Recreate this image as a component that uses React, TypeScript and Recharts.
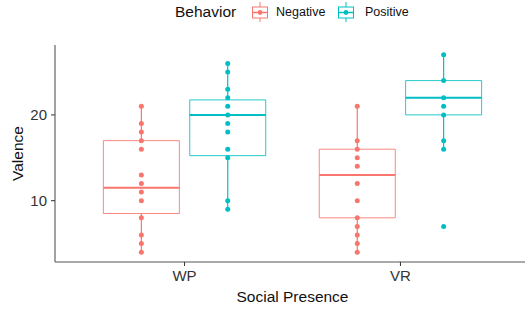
import {
  ComposedChart,
  Scatter,
  XAxis,
  YAxis,
  ReferenceArea,
  ReferenceLine,
  Label,
} from 'recharts'

const categories = ['WP', 'VR']
const groups = ['Negative', 'Positive']
const colors = ['#F8766D', '#00BFC4']

const wpNegative = [21, 19, 18, 17, 16, 13, 12, 11, 10, 8, 6, 5, 4]
const wpPositive = [26, 25, 23, 22, 21, 20, 19, 18, 16, 15, 10, 9]
const vrNegative = [21, 17, 16, 15, 14, 12, 10, 8, 7, 6, 5, 4]
const vrPositive = [27, 24, 22, 21, 20, 17, 16, 7]

// box stats: [lower whisker, q1, median, q3, upper whisker]
const wpNegativeBox = [4, 8.5, 11.5, 17, 21]
const wpPositiveBox = [9, 15.25, 20, 21.75, 26]
const vrNegativeBox = [4, 8, 13, 16, 21]
const vrPositiveBox = [16, 20, 22, 24, 27]

const yTicks = [10, 20]

const DODGE = 0.2
const HALF_BOX = 0.176
const FONT = '"Liberation Sans", Arial, sans-serif'

const points = [
  [wpNegative, vrNegative],
  [wpPositive, vrPositive],
]
const boxes = [
  [wpNegativeBox, vrNegativeBox],
  [wpPositiveBox, vrPositiveBox],
]

const xPos = (cat: number, grp: number) => cat + 1 + (grp === 0 ? -DODGE : DODGE)

const YLabel = ({ viewBox }: any) => {
  const cx = 17
  const cy = viewBox.y + viewBox.height / 2
  return (
    <text x={cx} y={cy} transform={`rotate(-90 ${cx} ${cy})`} textAnchor="middle"
      dominantBaseline="central" fontSize={15.5} fill="#111" fontFamily={FONT}>
      Valence
    </text>
  )
}

const XLabel = ({ viewBox }: any) => (
  <text x={viewBox.x + viewBox.width / 2} y={302} textAnchor="middle"
    fontSize={15.5} fill="#111" fontFamily={FONT}>
    Social Presence
  </text>
)

function KeyGlyph({ color }: { color: string }) {
  return (
    <svg width={18} height={22} style={{ display: 'block' }}>
      <line x1={9} y1={1} x2={9} y2={6} stroke={color} strokeWidth={1} />
      <line x1={9} y1={17} x2={9} y2={21} stroke={color} strokeWidth={1} />
      <rect x={1.5} y={6} width={15} height={11} fill="white" stroke={color} strokeWidth={1} />
      <line x1={1.5} y1={11.5} x2={16.5} y2={11.5} stroke={color} strokeWidth={1.5} />
      <circle cx={9} cy={11.5} r={2.4} fill={color} />
    </svg>
  )
}

export default function App() {
  const boxMarks: any[] = []
  boxes.forEach((grpBoxes, g) => {
    grpBoxes.forEach((b, c) => {
      const cx = xPos(c, g)
      const col = colors[g]
      const [lo, q1, med, q3, hi] = b
      boxMarks.push(
        <ReferenceLine key={`wl${g}${c}`} segment={[{ x: cx, y: lo }, { x: cx, y: q1 }]}
          stroke={col} strokeWidth={1.2} />,
        <ReferenceLine key={`wh${g}${c}`} segment={[{ x: cx, y: q3 }, { x: cx, y: hi }]}
          stroke={col} strokeWidth={1.2} />,
        <ReferenceArea key={`b${g}${c}`} x1={cx - HALF_BOX} x2={cx + HALF_BOX} y1={q1} y2={q3}
          fill="white" fillOpacity={0} stroke={col} strokeOpacity={0.85} strokeWidth={1} />,
        <ReferenceLine key={`m${g}${c}`} segment={[{ x: cx - HALF_BOX, y: med }, { x: cx + HALF_BOX, y: med }]}
          stroke={col} strokeWidth={2} />,
      )
    })
  })

  return (
    <div style={{ position: 'absolute', left: 0, top: 0, width: 525, height: 314, overflow: 'hidden', background: '#fff', fontFamily: FONT }}>
      <div style={{ position: 'absolute', left: 175, top: 2, fontSize: 15.5, color: '#111', lineHeight: '20px' }}>Behavior</div>
      <div style={{ position: 'absolute', left: 251, top: 1 }}><KeyGlyph color={colors[0]} /></div>
      <div style={{ position: 'absolute', left: 276, top: 4, fontSize: 12.5, color: '#111', lineHeight: '16px' }}>{groups[0]}</div>
      <div style={{ position: 'absolute', left: 337, top: 1 }}><KeyGlyph color={colors[1]} /></div>
      <div style={{ position: 'absolute', left: 365, top: 4, fontSize: 12.5, color: '#111', lineHeight: '16px' }}>{groups[1]}</div>

      <ComposedChart width={530} height={314} margin={{ top: 45, right: 0, bottom: 0, left: 0 }}>
        <XAxis type="number" dataKey="x" domain={[0.4, 2.6]} ticks={[1, 2]} allowDataOverflow
          tickFormatter={(v: number) => categories[v - 1]} height={52}
          axisLine={{ stroke: '#555', strokeWidth: 1.1 }} tickLine={{ stroke: '#333' }}
          tickSize={4} tickMargin={4}
          tick={{ fontSize: 15, fill: '#333', fontFamily: FONT }}>
          <Label content={<XLabel />} />
        </XAxis>
        <YAxis type="number" dataKey="y" domain={[2.85, 28.15]} ticks={yTicks} allowDataOverflow
          width={55} axisLine={{ stroke: '#555', strokeWidth: 1.1 }} tickLine={{ stroke: '#333' }}
          tickSize={4} tickMargin={4}
          tick={{ fontSize: 15, fill: '#333', fontFamily: FONT }}>
          <Label content={<YLabel />} />
        </YAxis>
        {boxMarks}
        {points.map((grpPts, g) => (
          <Scatter key={groups[g]} name={groups[g]} isAnimationActive={false}
            data={grpPts.flatMap((vals, c) => vals.map((v) => ({ x: xPos(c, g), y: v })))}
            shape={(p: any) => <circle cx={p.cx} cy={p.cy} r={2.5} fill={colors[g]} />} />
        ))}
      </ComposedChart>
    </div>
  )
}
